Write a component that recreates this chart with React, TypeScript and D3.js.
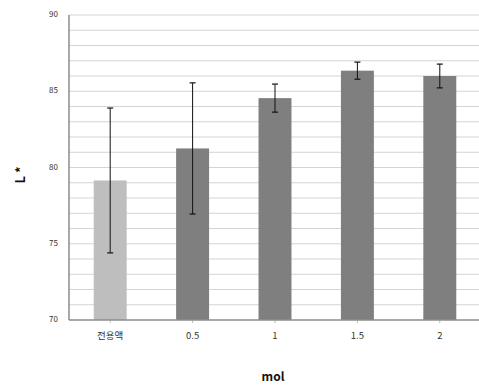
import React from "react";
import * as d3 from "d3";

const categories = ["전용액", "0.5", "1", "1.5", "2"];
const means = [79.15, 81.25, 84.55, 86.35, 86.0];
const errors = [4.75, 4.3, 0.92, 0.56, 0.78];
const yTicks = [70, 75, 80, 85, 90];

const W = 479;
const H = 385;
const left = 69;
const right = 481;
const top = 15;
const bottom = 320;

export default function App() {
  const x = d3.scaleBand<string>().domain(categories).range([left, right]).paddingInner(0.6).paddingOuter(0.3);
  const y = d3.scaleLinear().domain([70, 90]).range([bottom, top]);
  const grid = d3.range(71, 91, 1);
  const cap = 3;

  return (
    <svg width={W} height={H} style={{ position: "absolute", left: 0, top: 0, background: "#fff" }}
      fontFamily="'Noto Sans CJK KR', 'Noto Sans', sans-serif">
      {grid.map((g) => (
        <line key={g} x1={left} x2={W} y1={y(g)} y2={y(g)} stroke="#d4d4d4" strokeWidth={1} />
      ))}
      {categories.map((c, i) => {
        const bx = x(c)!;
        const bw = x.bandwidth();
        const cx = bx + bw / 2;
        return (
          <g key={c}>
            <rect x={bx} y={y(means[i])} width={bw} height={y(70) - y(means[i])} fill={i === 0 ? "#bebebe" : "#7f7f7f"} />
            <line x1={cx} x2={cx} y1={y(means[i] + errors[i])} y2={y(means[i] - errors[i])} stroke="#111" strokeWidth={1} />
            <line x1={cx - cap} x2={cx + cap} y1={y(means[i] + errors[i])} y2={y(means[i] + errors[i])} stroke="#111" strokeWidth={1.2} />
            <line x1={cx - cap} x2={cx + cap} y1={y(means[i] - errors[i])} y2={y(means[i] - errors[i])} stroke="#111" strokeWidth={1.2} />
            <line x1={cx} x2={cx} y1={bottom} y2={bottom + 3} stroke="#bbb" />
            <text x={cx} y={336} textAnchor="middle" dominantBaseline="middle" fontSize={9.5} fill="#333">{c}</text>
          </g>
        );
      })}
      <line x1={left} x2={left} y1={top} y2={bottom} stroke="#8c8c8c" strokeWidth={1.5} />
      <line x1={left} x2={W} y1={bottom} y2={bottom} stroke="#8c8c8c" strokeWidth={1.5} />
      {yTicks.map((t) => (
        <text key={t} x={58} y={y(t)} textAnchor="end" dominantBaseline="middle" fontSize={8} fill="#333">{t}</text>
      ))}
      <text transform="translate(21,175) rotate(-90)" textAnchor="middle" dominantBaseline="middle" fontSize={13} fontWeight="bold" fill="#111">L *</text>
      <text x={273} y={378} textAnchor="middle" dominantBaseline="middle" fontSize={12} fontWeight="bold" fill="#111">mol</text>
    </svg>
  );
}
